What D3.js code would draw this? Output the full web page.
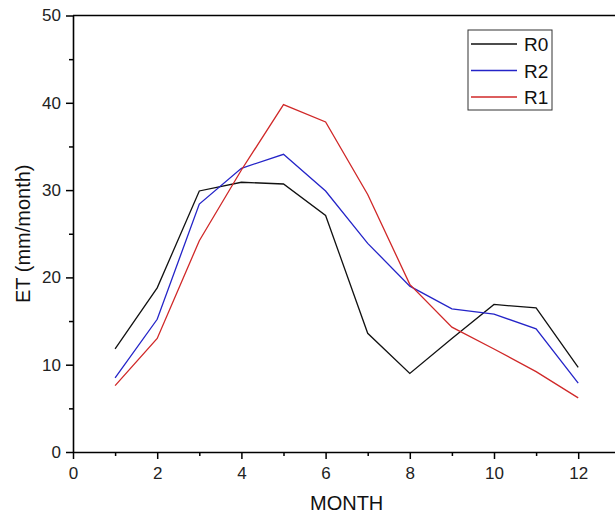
<!DOCTYPE html>
<html>
<head>
<meta charset="utf-8">
<script src="https://cdn.jsdelivr.net/npm/d3@7"></script>
<style>
  body { margin: 0; background: #fff; }
  svg { display: block; font-family: "Liberation Sans", Arial, sans-serif; }
</style>
</head>
<body>
<svg id="chart"></svg>
<script>
// data
const months = [1, 2, 3, 4, 5, 6, 7, 8, 9, 10, 11, 12];
const r0 = [11.8, 18.8, 29.9, 30.9, 30.7, 27.1, 13.6, 9.0, 13.0, 16.9, 16.5, 9.7];
const r2 = [8.5, 15.2, 28.4, 32.5, 34.1, 29.9, 23.9, 19.0, 16.4, 15.8, 14.1, 7.9];
const r1 = [7.6, 13.0, 24.2, 32.3, 39.8, 37.8, 29.5, 19.2, 14.3, 11.8, 9.2, 6.2];
const seriesNames = ["R0", "R2", "R1"];
const seriesColors = ["#111111", "#2424c8", "#d02828"];
const xTicks = [0, 2, 4, 6, 8, 10, 12];
const yTicks = [0, 10, 20, 30, 40, 50];

const width = 615, height = 521;
const plotLeft = 73, plotTop = 15.5, plotBottom = 452;

const svg = d3.select("#chart")
    .attr("width", width)
    .attr("height", height);

// x axis runs to 13, right frame falls just off the window
const x = d3.scaleLinear().domain([0, 13]).range([plotLeft, plotLeft + 13 * 42.1]);
const y = d3.scaleLinear().domain([0, 50]).range([plotBottom, plotTop]);

// frame (top + right edges)
svg.append("path")
    .attr("d", `M${x(0)},${y(50)}H${x(13)}V${y(0)}`)
    .attr("fill", "none")
    .attr("stroke", "#000")
    .attr("stroke-width", 1.5);

// major + minor ticks on the bottom axis
svg.append("g")
    .attr("transform", `translate(0,${plotBottom})`)
    .call(d3.axisBottom(x).tickValues(xTicks).tickSize(7).tickPadding(8).tickSizeOuter(0));
svg.append("g")
    .attr("transform", `translate(0,${plotBottom})`)
    .call(d3.axisBottom(x).tickValues([1, 3, 5, 7, 9, 11]).tickSize(4).tickFormat("").tickSizeOuter(0))
    .select(".domain").remove();

svg.append("g")
    .attr("transform", `translate(${plotLeft},0)`)
    .call(d3.axisLeft(y).tickValues(yTicks).tickSize(7).tickPadding(5).tickSizeOuter(0));
svg.append("g")
    .attr("transform", `translate(${plotLeft},0)`)
    .call(d3.axisLeft(y).tickValues([5, 15, 25, 35, 45]).tickSize(4).tickFormat("").tickSizeOuter(0))
    .select(".domain").remove();

svg.selectAll(".domain").attr("stroke", "#000").attr("stroke-width", 1.6);
svg.selectAll(".tick line").attr("stroke", "#000").attr("stroke-width", 1.5);
svg.selectAll(".tick text")
    .attr("font-size", 17)
    .attr("fill", "#222")
    .attr("font-family", "Liberation Sans, Arial, sans-serif");

// axis titles
svg.append("text")
    .attr("x", (x(0) + x(13)) / 2)
    .attr("y", 510)
    .attr("text-anchor", "middle")
    .attr("font-size", 20)
    .attr("fill", "#111")
    .text("MONTH");

svg.append("text")
    .attr("transform", `translate(30,${(plotTop + plotBottom) / 2}) rotate(-90)`)
    .attr("text-anchor", "middle")
    .attr("font-size", 20)
    .attr("fill", "#111")
    .text("ET (mm/month)");

// lines
const line = d3.line()
    .x(d => x(d[0]))
    .y(d => y(d[1]));

const series = [r0, r2, r1];
series.forEach((vals, i) => {
    svg.append("path")
        .datum(months.map((m, j) => [m, vals[j]]))
        .attr("d", line)
        .attr("fill", "none")
        .attr("stroke", seriesColors[i])
        .attr("stroke-width", 1.3);
});

// legend
const legend = svg.append("g")
    .attr("transform", "translate(468,30)");

legend.append("rect")
    .attr("width", 84)
    .attr("height", 80)
    .attr("fill", "#fff")
    .attr("stroke", "#333")
    .attr("stroke-width", 1);

seriesNames.forEach((name, i) => {
    const ly = 14 + i * 26.5;
    legend.append("line")
        .attr("x1", 3).attr("x2", 49)
        .attr("y1", ly).attr("y2", ly)
        .attr("stroke", seriesColors[i])
        .attr("stroke-width", 1.3);
    legend.append("text")
        .attr("x", 56)
        .attr("y", ly + 7)
        .attr("font-size", 19)
        .attr("fill", "#111")
        .text(name);
});
</script>
</body>
</html>
